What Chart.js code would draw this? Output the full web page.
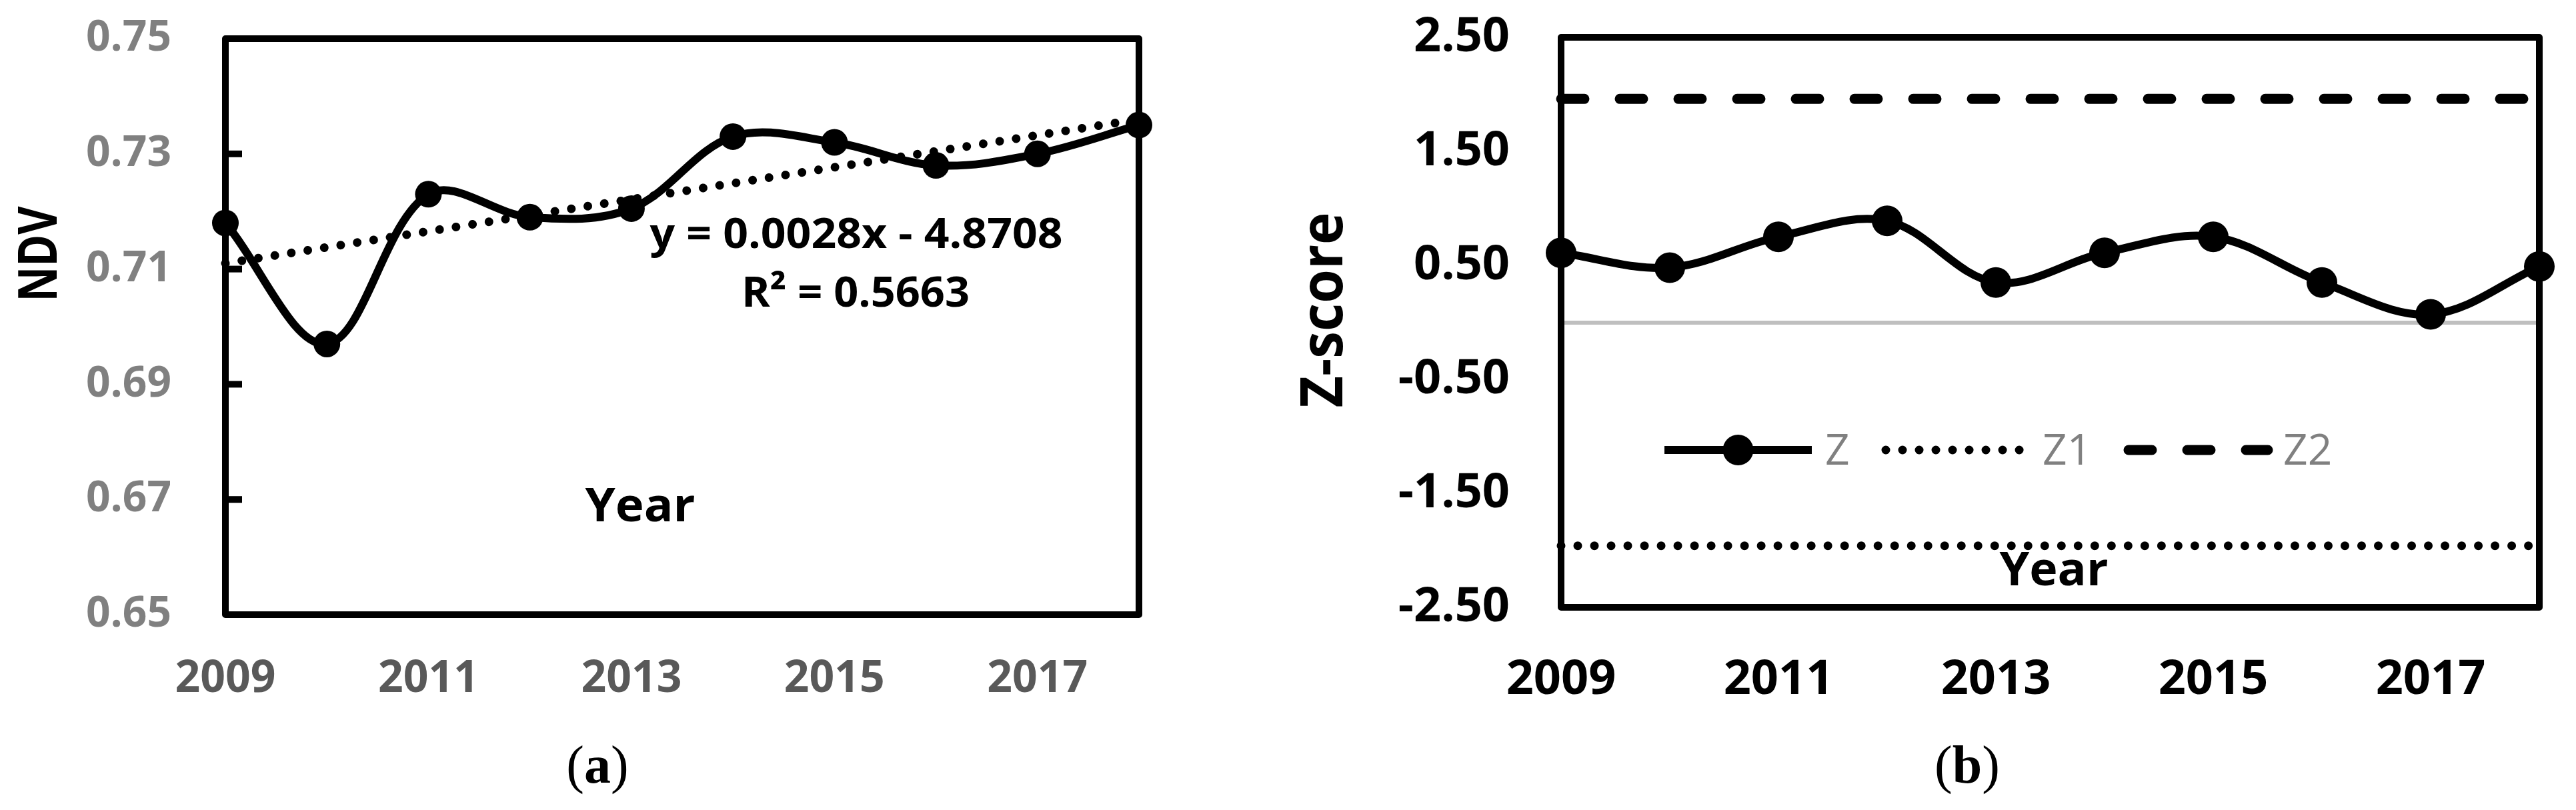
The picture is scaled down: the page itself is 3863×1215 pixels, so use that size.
<!DOCTYPE html>
<html>
<head>
<meta charset="utf-8">
<script src="https://cdn.jsdelivr.net/npm/chart.js@4.4.0/dist/chart.umd.min.js"></script>
<style>
    body { margin: 0; background: #fff; width: 3863px; height: 1215px; overflow: hidden; position: relative; }
    canvas { position: absolute; top: 0; }
    #chartA { left: 0; }
    #chartB { left: 1900px; }
    .cap { position: absolute; top: 1147px; font-family: "Liberation Serif", serif; font-size: 80px; line-height: 1; transform: translate(-50%, -50%); color: #000; }
</style>
</head>
<body>
<canvas id="chartA" width="1900" height="1100"></canvas>
<canvas id="chartB" width="1963" height="1100"></canvas>
<div class="cap" style="left:896px">(<b>a</b>)</div>
<div class="cap" style="left:2950px">(<b>b</b>)</div>
<script>
// values
const years = ["2009", "2010", "2011", "2012", "2013", "2014", "2015", "2016", "2017", "2018"];
const ndv_values = [0.718, 0.697, 0.723, 0.719, 0.7205, 0.733, 0.732, 0.728, 0.730, 0.735];
const ndv_trend = [0.711, null, null, null, null, null, null, null, null, 0.736];
const ndv_ticks = [0.65, 0.67, 0.69, 0.71, 0.73, 0.75];
const z_values = [0.61, 0.48, 0.75, 0.89, 0.35, 0.61, 0.75, 0.35, 0.07, 0.49];
const z1_values = [-1.96, -1.96, -1.96, -1.96, -1.96, -1.96, -1.96, -1.96, -1.96, -1.96];
const z2_values = [1.96, 1.96, 1.96, 1.96, 1.96, 1.96, 1.96, 1.96, 1.96, 1.96];
const z_ticks = [-2.5, -1.5, -0.5, 0, 0.5, 1.5, 2.5];
const equation_text = "y = 0.0028x - 4.8708";
const r2_text = "R\u00b2 = 0.5663";

const tick_font = "Open Sans";

// box, inner ticks, free texts and legend
const frame_plugin = {
    id: "frame",
    beforeDatasetsDraw(chart, args, opts) {
        const a = chart.chartArea;
        const ctx = chart.ctx;
        ctx.save();
        ctx.strokeStyle = "#000";
        ctx.lineWidth = 10;
        ctx.lineJoin = "round";
        ctx.strokeRect(a.left, a.top, a.right - a.left, a.bottom - a.top);
        if (opts.innerTicks) {
            const y = chart.scales.y;
            y.ticks.forEach(t => {
                if (t.value <= y.min || t.value >= y.max) return;
                const py = y.getPixelForValue(t.value);
                ctx.beginPath();
                ctx.moveTo(a.left, py);
                ctx.lineTo(a.left + 25, py);
                ctx.stroke();
            });
        }
        ctx.restore();
    },
    afterDraw(chart, args, opts) {
        const ctx = chart.ctx;
        (opts.texts || []).forEach(t => {
            ctx.save();
            ctx.font = t.font;
            ctx.fillStyle = t.color || "#000";
            ctx.textAlign = t.align || "center";
            ctx.textBaseline = t.baseline || "alphabetic";
            ctx.translate(t.x, t.y);
            if (t.rotate) ctx.rotate(t.rotate);
            if (t.width) ctx.scale(t.width / ctx.measureText(t.text).width, 1);
            ctx.fillText(t.text, 0, 0);
            ctx.restore();
        });
        (opts.legend || []).forEach(item => {
            const ds = chart.data.datasets[item.index];
            ctx.save();
            ctx.strokeStyle = ds.borderColor;
            ctx.lineWidth = ds.borderWidth;
            ctx.lineCap = ds.borderCapStyle || "butt";
            ctx.setLineDash(ds.borderDash || []);
            ctx.beginPath();
            ctx.moveTo(item.x1, item.y);
            ctx.lineTo(item.x2, item.y);
            ctx.stroke();
            if (ds.pointRadius) {
                ctx.setLineDash([]);
                ctx.fillStyle = ds.pointBackgroundColor;
                ctx.beginPath();
                ctx.arc((item.x1 + item.x2) / 2, item.y, ds.pointRadius, 0, Math.PI * 2);
                ctx.fill();
            }
            ctx.font = "64px 'Open Sans'";
            ctx.fillStyle = "#808080";
            ctx.textAlign = "left";
            ctx.textBaseline = "alphabetic";
            ctx.fillText(ds.label, item.textX, item.y + 22);
            ctx.restore();
        });
    },
};

// the scales add tick padding to the plot margins; the box is placed by layout padding instead
function fixWidth(w) {
    return s => { s.width = w; s.paddingTop = 0; s.paddingBottom = 0; };
}
function fixHeight(h) {
    return s => { s.height = h; s.paddingLeft = 0; s.paddingRight = 0; };
}

const config_a = {
    type: "line",
    data: {
        labels: years,
        datasets: [
            {
                label: "NDV",
                data: ndv_values,
                borderColor: "#000",
                borderWidth: 12,
                tension: 0.35,
                pointRadius: 20,
                pointBorderWidth: 0,
                pointBackgroundColor: "#000",
                clip: false,
            },
            {
                label: "Linear",
                data: ndv_trend,
                borderColor: "#000",
                borderWidth: 13,
                borderDash: [0.01, 25],
                borderCapStyle: "round",
                pointRadius: 0,
                spanGaps: true,
                tension: 0,
                clip: false,
            },
        ],
    },
    options: {
        responsive: false,
        animation: false,
        devicePixelRatio: 1,
        layout: { padding: { top: 58, right: 192, left: 0, bottom: 0 } },
        plugins: {
            legend: { display: false },
            tooltip: { enabled: false },
            frame: {
                innerTicks: true,
                texts: [
                    { text: "NDV", x: 62, y: 381, rotate: -Math.PI / 2, baseline: "middle", width: 143, font: "bold 80px 'Open Sans'" },
                    { text: "Year", x: 960, y: 782, width: 165, font: "bold 70px 'Open Sans'" },
                    { text: equation_text, x: 1284, y: 372, width: 619, font: "bold 63px 'Open Sans'" },
                    { text: r2_text, x: 1283, y: 460, width: 342, font: "bold 63px 'Open Sans'" },
                ],
            },
        },
        scales: {
            x: {
                offset: false,
                grid: { display: false },
                border: { display: false },
                ticks: {
                    autoSkip: false,
                    maxRotation: 0,
                    padding: 50,
                    color: "#595959",
                    font: { family: tick_font, size: 66, weight: "bold" },
                    callback: (v, i) => (i % 2 === 0 ? years[i] : ""),
                },
                afterFit: fixHeight(178),
            },
            y: {
                min: 0.65,
                max: 0.75,
                afterBuildTicks: s => { s.ticks = ndv_ticks.map(v => ({ value: v })); },
                grid: { display: false },
                border: { display: false },
                ticks: {
                    padding: 73,
                    color: "#808080",
                    font: { family: tick_font, size: 64, weight: "bold" },
                    callback: v => v.toFixed(2),
                },
                afterFit: fixWidth(338),
            },
        },
    },
    plugins: [frame_plugin],
};

const config_b = {
    type: "line",
    data: {
        labels: years,
        datasets: [
            {
                label: "Z",
                data: z_values,
                borderColor: "#000",
                borderWidth: 12,
                tension: 0.35,
                pointRadius: 23,
                pointBorderWidth: 0,
                pointBackgroundColor: "#000",
                clip: false,
            },
            {
                label: "Z1",
                data: z1_values,
                borderColor: "#000",
                borderWidth: 13,
                borderDash: [0.01, 25],
                borderCapStyle: "round",
                pointRadius: 0,
                tension: 0,
                clip: false,
            },
            {
                label: "Z2",
                data: z2_values,
                borderColor: "#000",
                borderWidth: 15,
                borderDash: [35, 53],
                borderCapStyle: "round",
                pointRadius: 0,
                tension: 0,
                clip: false,
            },
        ],
    },
    options: {
        responsive: false,
        animation: false,
        devicePixelRatio: 1,
        layout: { padding: { top: 56, right: 55, left: 0, bottom: 0 } },
        plugins: {
            legend: { display: false },
            tooltip: { enabled: false },
            frame: {
                innerTicks: false,
                texts: [
                    { text: "Z-score", x: 88, y: 465, rotate: -Math.PI / 2, baseline: "middle", width: 293, font: "bold 88px 'Open Sans'" },
                    { text: "Year", x: 1180, y: 878, width: 163, font: "bold 70px 'Open Sans'" },
                ],
                legend: [
                    { index: 0, x1: 596, x2: 817, y: 675, textX: 837 },
                    { index: 1, x1: 928, x2: 1131, y: 675, textX: 1163 },
                    { index: 2, x1: 1292, x2: 1501, y: 675, textX: 1524 },
                ],
            },
        },
        scales: {
            x: {
                offset: false,
                grid: { display: false },
                border: { display: false },
                ticks: {
                    autoSkip: false,
                    maxRotation: 0,
                    padding: 58,
                    color: "#000",
                    font: { family: tick_font, size: 72, weight: "bold" },
                    callback: (v, i) => (i % 2 === 0 ? years[i] : ""),
                },
                afterFit: fixHeight(189),
            },
            y: {
                min: -2.5,
                max: 2.5,
                afterBuildTicks: s => { s.ticks = z_ticks.map(v => ({ value: v })); },
                grid: {
                    drawTicks: false,
                    color: c => (c.tick && c.tick.value === 0 ? "#BFBFBF" : "rgba(0,0,0,0)"),
                    lineWidth: 6,
                },
                border: { display: false },
                ticks: {
                    padding: 77,
                    color: "#000",
                    font: { family: tick_font, size: 72, weight: "bold" },
                    callback: v => (v === 0 ? "" : v.toFixed(2)),
                },
                afterFit: fixWidth(441),
            },
        },
    },
    plugins: [frame_plugin],
};

const chart_a = new Chart(document.getElementById("chartA").getContext("2d"), config_a);
const chart_b = new Chart(document.getElementById("chartB").getContext("2d"), config_b);
</script>
</body>
</html>
